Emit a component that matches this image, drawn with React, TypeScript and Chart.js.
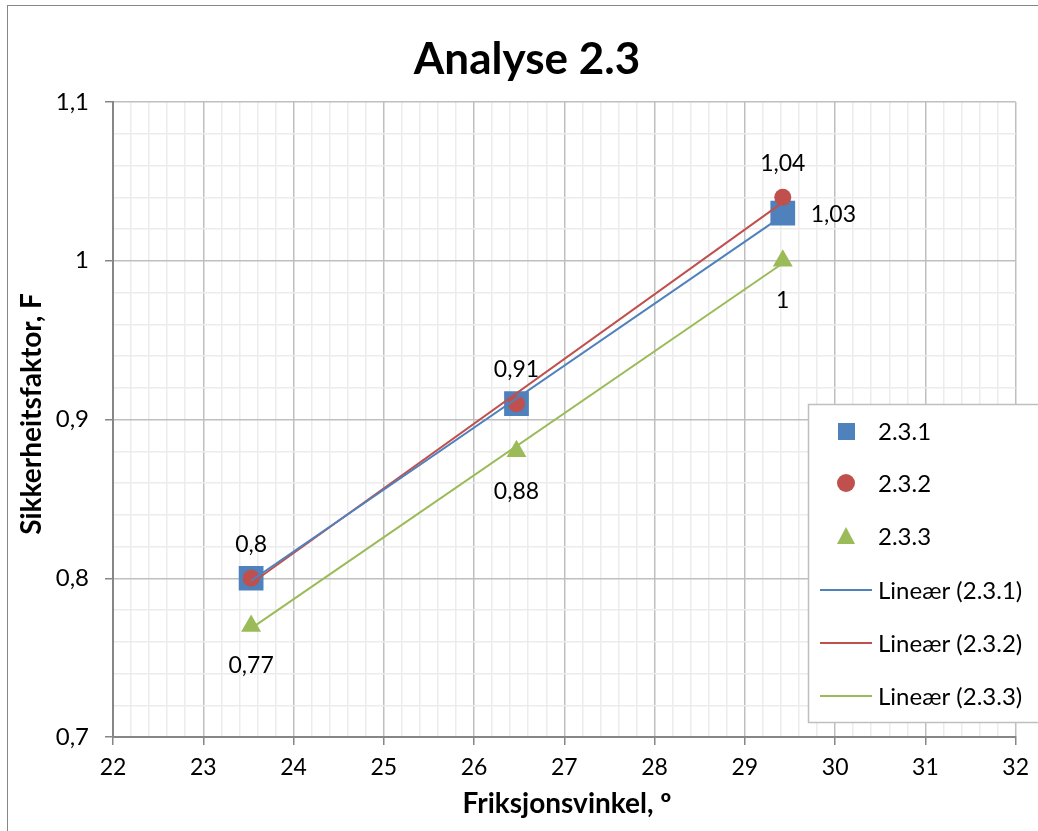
import React, { useEffect, useRef } from "react";
import { Chart, registerables } from "chart.js";

Chart.register(...registerables);

const TITLE = "Analyse 2.3";
const X_TITLE = "Friksjonsvinkel, º";
const Y_TITLE = "Sikkerheitsfaktor, F";

const frictionAngles = [23.53, 26.47, 29.42];
const series231 = [0.8, 0.91, 1.03];
const series232 = [0.8, 0.91, 1.04];
const series233 = [0.77, 0.88, 1.0];

const seriesNames = ["2.3.1", "2.3.2", "2.3.3"];
const trendNames = ["Lineær (2.3.1)", "Lineær (2.3.2)", "Lineær (2.3.3)"];

const X_MIN = 22;
const X_MAX = 32;
const X_MINOR = 0.2;
const Y_MIN = 0.7;
const Y_MAX = 1.1;
const Y_MINOR = 0.02;

const BLUE = "#4F81BD";
const RED = "#C0504D";
const GREEN = "#9BBB59";
const FONT = "Lato, 'Open Sans', sans-serif";

function fmt(v: number) {
  return String(Math.round(v * 100) / 100).replace(".", ",");
}

function trend(xs: number[], ys: number[]) {
  const n = xs.length;
  const mx = xs.reduce((a, b) => a + b, 0) / n;
  const my = ys.reduce((a, b) => a + b, 0) / n;
  let sxy = 0;
  let sxx = 0;
  for (let i = 0; i < n; i++) {
    sxy += (xs[i] - mx) * (ys[i] - my);
    sxx += (xs[i] - mx) * (xs[i] - mx);
  }
  const b = sxy / sxx;
  const a = my - b * mx;
  const x0 = Math.min(...xs);
  const x1 = Math.max(...xs);
  return [
    { x: x0, y: a + b * x0 },
    { x: x1, y: a + b * x1 },
  ];
}

function pts(ys: number[]) {
  return frictionAngles.map((x, i) => ({ x, y: ys[i] }));
}

function isMajor(v: number, step: number) {
  const r = v / step;
  return Math.abs(r - Math.round(r)) < 1e-6;
}

function buildTicks(min: number, max: number, step: number) {
  const out: { value: number }[] = [];
  const n = Math.round((max - min) / step);
  for (let i = 0; i <= n; i++) out.push({ value: Math.round((min + i * step) * 1000) / 1000 });
  return out;
}

const decorPlugin = {
  id: "decor",
  afterDraw(chart: any) {
    const ctx = chart.ctx as CanvasRenderingContext2D;
    const xs = chart.scales.x;
    const ys = chart.scales.y;
    ctx.save();
    ctx.strokeStyle = "#868686";
    ctx.lineWidth = 1;
    ctx.strokeRect(7.5, 5.5, 2000, 2000);

    ctx.fillStyle = "#000";
    ctx.textAlign = "center";
    ctx.textBaseline = "middle";
    ctx.font = `bold 44px ${FONT}`;
    ctx.fillText(TITLE, 527, 60);

    ctx.font = `bold 28px ${FONT}`;
    ctx.fillText(X_TITLE, 567, 804);
    ctx.save();
    ctx.translate(32, 414);
    ctx.rotate(-Math.PI / 2);
    ctx.fillText(Y_TITLE, 0, 0);
    ctx.restore();

    ctx.font = `23px ${FONT}`;
    ctx.fillStyle = "#000";
    const label = (x: number, y: number, dx: number, dy: number, align: CanvasTextAlign) => {
      ctx.textAlign = align;
      ctx.fillText(fmt(y), xs.getPixelForValue(x) + dx, ys.getPixelForValue(y) + dy);
    };
    frictionAngles.forEach((x, i) => {
      label(x, series232[i], 0, -34, "center");
      label(x, series233[i], 0, 40, "center");
    });
    label(frictionAngles[2], series231[2], 28, 1, "left");

    const lx = 808.5;
    const ly = 404.5;
    ctx.fillStyle = "#fff";
    ctx.fillRect(lx, ly, 400, 318);
    ctx.strokeStyle = "#bfbfbf";
    ctx.lineWidth = 1.5;
    ctx.strokeRect(lx, ly, 400, 318);
    const rows = [431, 483, 536, 590, 643, 696];
    const mx = 846;
    const tx = 878;
    ctx.textAlign = "left";
    ctx.textBaseline = "middle";
    ctx.font = `24px ${FONT}`;
    ctx.fillStyle = BLUE;
    ctx.fillRect(mx - 8, rows[0] - 8, 17, 17);
    ctx.fillStyle = RED;
    ctx.beginPath();
    ctx.arc(mx, rows[1], 9, 0, Math.PI * 2);
    ctx.fill();
    ctx.fillStyle = GREEN;
    ctx.beginPath();
    ctx.moveTo(mx, rows[2] - 9);
    ctx.lineTo(mx + 9, rows[2] + 8);
    ctx.lineTo(mx - 9, rows[2] + 8);
    ctx.closePath();
    ctx.fill();
    const lineColors = [BLUE, RED, GREEN];
    lineColors.forEach((c, i) => {
      ctx.strokeStyle = c;
      ctx.lineWidth = 2;
      ctx.beginPath();
      ctx.moveTo(820, rows[3 + i]);
      ctx.lineTo(872, rows[3 + i]);
      ctx.stroke();
    });
    ctx.fillStyle = "#000";
    seriesNames.forEach((n, i) => ctx.fillText(n, tx, rows[i] + 1));
    trendNames.forEach((n, i) => ctx.fillText(n, tx, rows[3 + i] + 1));
    ctx.restore();
  },
};

export default function App() {
  const ref = useRef<HTMLCanvasElement | null>(null);
  useEffect(() => {
    if (!ref.current) return;
    const chart = new Chart(ref.current, {
      type: "scatter",
      data: {
        datasets: [
          { label: trendNames[0], data: trend(frictionAngles, series231), showLine: true, borderColor: BLUE, borderWidth: 2, pointRadius: 0, order: 0 },
          { label: trendNames[1], data: trend(frictionAngles, series232), showLine: true, borderColor: RED, borderWidth: 2, pointRadius: 0, order: 0 },
          { label: trendNames[2], data: trend(frictionAngles, series233), showLine: true, borderColor: GREEN, borderWidth: 2, pointRadius: 0, order: 0 },
          { label: seriesNames[2], data: pts(series233), pointStyle: "triangle", pointRadius: 11.5, backgroundColor: GREEN, borderColor: GREEN, borderWidth: 0, order: 1 },
          { label: seriesNames[1], data: pts(series232), pointStyle: "circle", pointRadius: 8.5, backgroundColor: RED, borderColor: RED, borderWidth: 0, order: 2 },
          { label: seriesNames[0], data: pts(series231), pointStyle: "rect", pointRadius: 17.5, backgroundColor: BLUE, borderColor: BLUE, borderWidth: 0, order: 3 },
        ],
      },
      options: {
        animation: false,
        responsive: false,
        maintainAspectRatio: false,
        layout: { padding: { top: 102, right: 19, bottom: 0, left: 0 } },
        plugins: { legend: { display: false }, tooltip: { enabled: false }, title: { display: false } },
        scales: {
          x: {
            type: "linear",
            min: X_MIN,
            max: X_MAX,
            afterBuildTicks: (s: any) => { s.ticks = buildTicks(X_MIN, X_MAX, X_MINOR); },
            afterFit: (s: any) => { s.height = 94; },
            ticks: {
              autoSkip: false,
              maxRotation: 0,
              padding: 9,
              color: "#000",
              font: { family: FONT, size: 23 },
              callback: (v: any) => (isMajor(Number(v), 1) ? String(Math.round(Number(v))) : ""),
            },
            grid: {
              color: (c: any) => (isMajor(c.tick.value, 1) ? "#bfbfbf" : "#ececec"),
              lineWidth: 1.5,
              tickColor: (c: any) => (isMajor(c.tick.value, 1) ? "#868686" : "rgba(0,0,0,0)"),
              tickLength: 8,
            },
            border: { color: "#868686", width: 2 },
          },
          y: {
            type: "linear",
            min: Y_MIN,
            max: Y_MAX,
            afterBuildTicks: (s: any) => { s.ticks = buildTicks(Y_MIN, Y_MAX, Y_MINOR); },
            afterFit: (s: any) => { s.width = 113; },
            ticks: {
              autoSkip: false,
              padding: 16,
              color: "#000",
              font: { family: FONT, size: 24 },
              callback: (v: any) => (isMajor(Number(v), 0.1) ? fmt(Number(v)) : ""),
            },
            grid: {
              color: (c: any) => (isMajor(c.tick.value, 0.1) ? "#bfbfbf" : "#ececec"),
              lineWidth: 1.5,
              tickColor: (c: any) => (isMajor(c.tick.value, 0.1) ? "#868686" : "rgba(0,0,0,0)"),
              tickLength: 8,
            },
            border: { color: "#868686", width: 2 },
          },
        },
      },
      plugins: [decorPlugin],
    });
    return () => chart.destroy();
  }, []);
  return (
    <div style={{ position: "absolute", left: 0, top: 0, width: 1038, height: 831, background: "#fff" }}>
      <canvas ref={ref} width={1038} height={831} style={{ width: 1038, height: 831, display: "block" }} />
    </div>
  );
}
